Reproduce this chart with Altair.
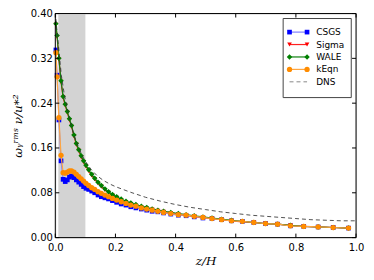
import altair as alt
import pandas as pd

# ---------------- data ----------------
z = [0.002, 0.006, 0.012, 0.019, 0.026, 0.033, 0.040, 0.047, 0.054, 0.062,
     0.070, 0.078, 0.086, 0.094, 0.102, 0.111, 0.121, 0.131, 0.142, 0.153,
     0.165, 0.177, 0.190, 0.204, 0.219, 0.235, 0.251, 0.268, 0.286, 0.304,
     0.322, 0.341, 0.360, 0.384, 0.409, 0.435, 0.462, 0.491, 0.521, 0.553,
     0.586, 0.622, 0.660, 0.699, 0.739, 0.782, 0.826, 0.874, 0.924, 0.975]

csgs = [0.335, 0.290, 0.210, 0.137, 0.104, 0.100, 0.103, 0.108, 0.110, 0.107,
        0.103, 0.099, 0.095, 0.091, 0.088, 0.086, 0.083, 0.080, 0.076, 0.073,
        0.071, 0.069, 0.066, 0.063, 0.060, 0.058, 0.055, 0.053, 0.051, 0.049,
        0.047, 0.046, 0.044, 0.042, 0.040, 0.039, 0.037, 0.035, 0.034, 0.032,
        0.030, 0.029, 0.027, 0.025, 0.024, 0.021, 0.020, 0.019, 0.018, 0.017]

sigma = [0.380, 0.358, 0.318, 0.278, 0.250, 0.236, 0.223, 0.210, 0.198, 0.181,
         0.166, 0.155, 0.144, 0.135, 0.127, 0.119, 0.111, 0.104, 0.097, 0.091,
         0.085, 0.080, 0.075, 0.071, 0.067, 0.063, 0.060, 0.057, 0.054, 0.052,
         0.050, 0.048, 0.046, 0.044, 0.042, 0.040, 0.038, 0.036, 0.034, 0.032,
         0.030, 0.028, 0.027, 0.025, 0.024, 0.022, 0.020, 0.019, 0.018, 0.017]

wale = [0.382, 0.361, 0.320, 0.280, 0.252, 0.238, 0.225, 0.212, 0.200, 0.183,
        0.168, 0.157, 0.146, 0.137, 0.129, 0.121, 0.113, 0.106, 0.099, 0.093,
        0.087, 0.082, 0.077, 0.073, 0.069, 0.065, 0.062, 0.059, 0.056, 0.054,
        0.051, 0.049, 0.047, 0.045, 0.043, 0.041, 0.039, 0.037, 0.035, 0.033,
        0.031, 0.029, 0.027, 0.025, 0.024, 0.022, 0.020, 0.019, 0.018, 0.017]

keqn = [0.330, 0.287, 0.214, 0.147, 0.116, 0.115, 0.117, 0.119, 0.119, 0.117,
        0.113, 0.109, 0.105, 0.101, 0.097, 0.093, 0.089, 0.086, 0.082, 0.079,
        0.076, 0.073, 0.070, 0.067, 0.064, 0.061, 0.058, 0.056, 0.053, 0.051,
        0.049, 0.047, 0.045, 0.043, 0.041, 0.040, 0.038, 0.036, 0.034, 0.032,
        0.030, 0.029, 0.027, 0.025, 0.024, 0.021, 0.020, 0.019, 0.018, 0.017]

z_dns = [0.002, 0.010, 0.020, 0.030, 0.040, 0.050, 0.060, 0.070, 0.080, 0.090,
         0.100, 0.120, 0.140, 0.160, 0.180, 0.200, 0.250, 0.300, 0.350, 0.400,
         0.450, 0.500, 0.550, 0.600, 0.650, 0.700, 0.750, 0.800, 0.850, 0.900,
         0.950, 1.000]
dns = [0.390, 0.345, 0.290, 0.255, 0.230, 0.207, 0.187, 0.171, 0.158, 0.146,
       0.136, 0.121, 0.110, 0.102, 0.096, 0.091, 0.081, 0.072, 0.065, 0.059,
       0.054, 0.050, 0.046, 0.043, 0.040, 0.038, 0.036, 0.034, 0.032, 0.031,
       0.030, 0.030]

band_range = [0.01, 0.1]
x_ticks = [0.0, 0.2, 0.4, 0.6, 0.8, 1.0]
y_ticks = [0.00, 0.08, 0.16, 0.24, 0.32, 0.40]

names = ["CSGS", "Sigma", "WALE", "kEqn", "DNS"]
marker_colors = ["#0000ff", "#ff0000", "#008000", "#ff8c00", "#555555"]
line_colors = ["#8080ff", "#ff2020", "#108010", "#ffa640", "#333333"]
shapes = ["square", "triangle-down", "diamond", "circle", "circle"]
msizes = [22, 22, 30, 28, 0]

# ---------------- layout ----------------
W, H = 302, 225
xs = alt.Scale(domain=[0, 1], nice=False, zero=False)
ys = alt.Scale(domain=[0, 0.4], nice=False, zero=False)

band = alt.Chart(pd.DataFrame({"a": [band_range[0]], "b": [band_range[1]]})).mark_rect(
    color="#d3d3d3").encode(
    x=alt.X("a:Q", scale=xs, axis=alt.Axis(
        values=x_ticks, format=".1f", title="z/H", ticks=False, domain=False, grid=False,
        labelFontSize=10, labelFont="DejaVu Sans", labelColor="#000", labelPadding=5,
        labelFlush=False, labelOverlap=False, titleFont="DejaVu Serif",
        titleFontStyle="italic", titleFontWeight="normal", titleFontSize=12,
        titleColor="#000", titlePadding=3)),
    x2="b:Q",
    y=alt.value(0), y2=alt.value(H),
)

yaxis_layer = alt.Chart(pd.DataFrame({"t": y_ticks})).mark_point(opacity=0).encode(
    x=alt.value(0),
    y=alt.Y("t:Q", scale=ys, axis=alt.Axis(
        values=y_ticks, format=".2f", title="ωᵧʳᵐˢ ν/u*²", ticks=False, domain=False,
        grid=False, labelFontSize=10, labelFont="DejaVu Sans", labelColor="#000",
        labelPadding=3, labelFlush=False, labelOverlap=False, titleFont="DejaVu Serif",
        titleFontStyle="italic", titleFontWeight="normal", titleFontSize=12,
        titleColor="#000", titlePadding=6)),
)

series = [csgs, sigma, wale, keqn]
layers = [band, yaxis_layer]
for i, vals in enumerate(series):
    d = pd.DataFrame({"z": z, "v": vals})
    base = alt.Chart(d).encode(
        x=alt.X("z:Q", scale=xs, axis=None),
        y=alt.Y("v:Q", scale=ys, axis=None),
    )
    layers.append(base.mark_line(color=line_colors[i], strokeWidth=1.2))
    layers.append(base.mark_point(shape=shapes[i], filled=True, color=marker_colors[i],
                                  size=msizes[i], opacity=1))

dns_df = pd.DataFrame({"z": z_dns, "v": dns})
layers.append(alt.Chart(dns_df).mark_line(color="#333333", strokeWidth=1,
                                          strokeDash=[4, 3], opacity=0.85).encode(
    x=alt.X("z:Q", scale=xs, axis=None), y=alt.Y("v:Q", scale=ys, axis=None)))

# inward ticks
xt = pd.DataFrame({"t": x_ticks})
yt = pd.DataFrame({"t": y_ticks})
for y0, y1 in [(H, H - 4), (0, 4)]:
    layers.append(alt.Chart(xt).mark_rule(color="black", strokeWidth=1).encode(
        x=alt.X("t:Q", scale=xs, axis=None), y=alt.value(y0), y2=alt.value(y1)))
for x0, x1 in [(0, 4), (W - 4, W)]:
    layers.append(alt.Chart(yt).mark_rule(color="black", strokeWidth=1).encode(
        y=alt.Y("t:Q", scale=ys, axis=None), x=alt.value(x0), x2=alt.value(x1)))

# frame
layers.append(alt.Chart(pd.DataFrame({"a": [0]})).mark_rect(
    fill=None, stroke="black", strokeWidth=1).encode(
    x=alt.value(0), x2=alt.value(W), y=alt.value(0), y2=alt.value(H)))

# legend
leg = pd.DataFrame({"name": names, "mc": marker_colors, "lc": line_colors,
                    "shape": shapes})
ly = alt.Y("name:N", scale=alt.Scale(domain=names, range=[12.4, 74.8]), axis=None)
layers.append(alt.Chart(pd.DataFrame({"a": [0]})).mark_rect(
    fill="white", stroke="#444444", strokeWidth=1).encode(
    x=alt.value(228.8), x2=alt.value(297.2), y=alt.value(5), y2=alt.value(84.4)))
leg_models = leg[leg["name"] != "DNS"]
layers.append(alt.Chart(leg_models).mark_rule(strokeWidth=1.2).encode(
    y=ly, x=alt.value(235.2), x2=alt.value(252.8),
    color=alt.Color("lc:N", scale=None)))
layers.append(alt.Chart(leg[leg["name"] == "DNS"]).mark_rule(
    strokeWidth=1, strokeDash=[4, 3], color="#888888").encode(
    y=ly, x=alt.value(235.2), x2=alt.value(252.8)))
for xp in [235.2, 252.8]:
    for i, n in enumerate(names[:4]):
        layers.append(alt.Chart(leg[leg["name"] == n]).mark_point(
            shape=shapes[i], filled=True, color=marker_colors[i], size=msizes[i],
            opacity=1).encode(y=ly, x=alt.value(xp)))
layers.append(alt.Chart(leg).mark_text(
    align="left", baseline="middle", fontSize=9, font="DejaVu Sans",
    color="black").encode(y=ly, x=alt.value(262), text="name:N"))

chart = alt.layer(*layers).resolve_scale(x="independent", y="independent").properties(
    width=W, height=H,
    padding={"left": 47.5, "top": 5, "right": 10, "bottom": 40},
    autosize=alt.AutoSizeParams(type="none"),
).configure_view(stroke=None).configure(background="white")

chart.save("out.html", embed_options={"renderer": "svg", "actions": False})
